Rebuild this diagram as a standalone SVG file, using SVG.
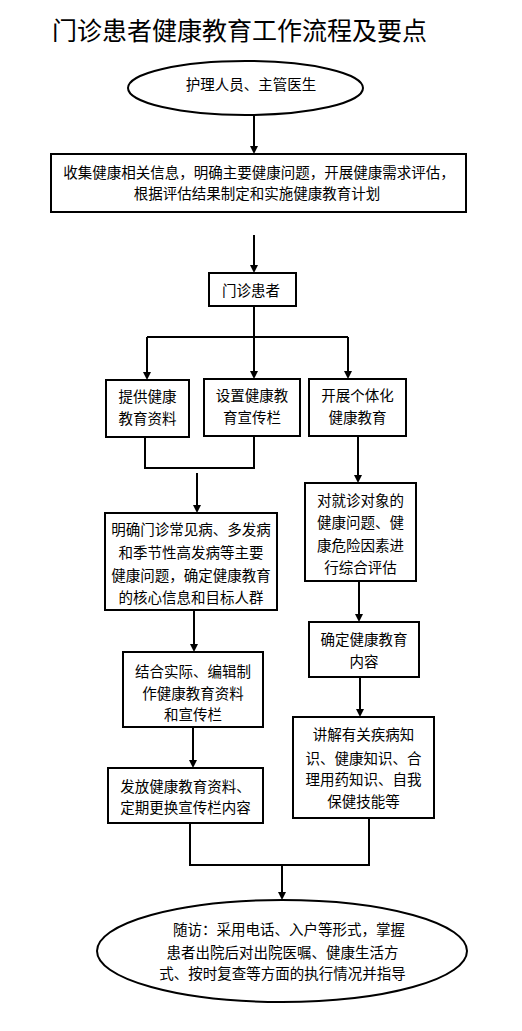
<svg xmlns="http://www.w3.org/2000/svg" width="522" height="1031" viewBox="0 0 522 1031">
<style>
.box{fill:#fff;stroke:#000;stroke-width:2}
.ell{fill:#fff;stroke:#000;stroke-width:2}
.t{font-family:"Noto Sans CJK SC","Liberation Sans",sans-serif;font-size:14.5px;fill:#000;text-anchor:middle}
.title{font-family:"Noto Sans CJK SC","Liberation Sans",sans-serif;font-size:25px;fill:#000}
.c{fill:none;stroke:#000;stroke-width:2}
.a{fill:none;stroke:#000;stroke-width:2;marker-end:url(#ah)}
</style>
<defs>
<marker id="ah" markerWidth="8" markerHeight="8" refX="5" refY="4" orient="auto" markerUnits="userSpaceOnUse"><path d="M0,0 L8,4 L0,8 z" fill="#000"/></marker>
</defs>
<rect width="522" height="1031" fill="#fff"/>
<text class="title" x="52" y="39.5">门诊患者健康教育工作流程及要点</text>

<g id="connectors">
<line class="a" x1="254" y1="115" x2="254" y2="151"/>
<line class="a" x1="254" y1="235" x2="254" y2="270"/>
<polyline class="c" points="254,306 254,337"/>
<polyline class="c" points="147,337 348,337"/>
<line class="a" x1="147" y1="337" x2="147" y2="377"/>
<line class="a" x1="254" y1="337" x2="254" y2="376"/>
<line class="a" x1="348" y1="337" x2="348" y2="376"/>
<polyline class="c" points="145,437 145,468 254,468 254,436"/>
<line class="a" x1="197" y1="473" x2="197" y2="510"/>
<line class="a" x1="358" y1="436" x2="358" y2="480"/>
<line class="a" x1="194" y1="610" x2="194" y2="649"/>
<line class="a" x1="359" y1="581" x2="359" y2="619"/>
<line class="a" x1="193" y1="727" x2="193" y2="765"/>
<line class="a" x1="360" y1="677" x2="360" y2="714"/>
<polyline class="c" points="190,823 190,865 369,865 369,818"/>
<line class="a" x1="282" y1="865" x2="282" y2="897"/>
</g>

<g id="n-start">
<ellipse class="ell" cx="245.5" cy="88" rx="117.5" ry="27"/>
<text class="t" x="251" y="89.5">护理人员、主管医生</text>
</g>

<g id="n-collect">
<rect class="box" x="51" y="154" width="415" height="58"/>
<text class="t" x="259" y="177.5">收集健康相关信息，明确主要健康问题，开展健康需求评估，</text>
<text class="t" x="257" y="198.5">根据评估结果制定和实施健康教育计划</text>
</g>

<g id="n-patient">
<rect class="box" x="209" y="273" width="87" height="33"/>
<text class="t" x="251" y="295.5">门诊患者</text>
</g>

<g id="n-material">
<rect class="box" x="106" y="380" width="83" height="57"/>
<text class="t" x="147.5" y="402">提供健康</text>
<text class="t" x="147.5" y="423.5">教育资料</text>
</g>

<g id="n-board">
<rect class="box" x="204" y="379" width="96" height="57"/>
<text class="t" x="252" y="401">设置健康教</text>
<text class="t" x="252" y="422.5">育宣传栏</text>
</g>

<g id="n-personal">
<rect class="box" x="309" y="379" width="97" height="57"/>
<text class="t" x="357.5" y="401">开展个体化</text>
<text class="t" x="357.5" y="422.5">健康教育</text>
</g>

<g id="n-identify">
<rect class="box" x="105" y="513" width="172" height="97"/>
<text class="t" x="191" y="535">明确门诊常见病、多发病</text>
<text class="t" x="191" y="558">和季节性高发病等主要</text>
<text class="t" x="191" y="581">健康问题，确定健康教育</text>
<text class="t" x="191" y="603">的核心信息和目标人群</text>
</g>

<g id="n-assess">
<rect class="box" x="305" y="483" width="111" height="98"/>
<text class="t" x="360.5" y="505.5">对就诊对象的</text>
<text class="t" x="360.5" y="528">健康问题、健</text>
<text class="t" x="360.5" y="550.5">康危险因素进</text>
<text class="t" x="360.5" y="572.5">行综合评估</text>
</g>

<g id="n-edit">
<rect class="box" x="123" y="652" width="140" height="75"/>
<text class="t" x="193" y="676.5">结合实际、编辑制</text>
<text class="t" x="193" y="698.5">作健康教育资料</text>
<text class="t" x="193" y="719.5">和宣传栏</text>
</g>

<g id="n-content">
<rect class="box" x="309" y="622" width="110" height="55"/>
<text class="t" x="364" y="644.5">确定健康教育</text>
<text class="t" x="364" y="666.5">内容</text>
</g>

<g id="n-distribute">
<rect class="box" x="108" y="768" width="155" height="55"/>
<text class="t" x="185.5" y="791.5">发放健康教育资料、</text>
<text class="t" x="185.5" y="812.5">定期更换宣传栏内容</text>
</g>

<g id="n-explain">
<rect class="box" x="293" y="717" width="141" height="101"/>
<text class="t" x="363.5" y="739.5">讲解有关疾病知</text>
<text class="t" x="363.5" y="763.5">识、健康知识、合</text>
<text class="t" x="363.5" y="784.5">理用药知识、自我</text>
<text class="t" x="363.5" y="806.5">保健技能等</text>
</g>

<g id="n-followup">
<ellipse class="ell" cx="282" cy="951" rx="185" ry="51"/>
<text class="t" x="289" y="934.5">随访：采用电话、入户等形式，掌握</text>
<text class="t" x="282.5" y="957.5">患者出院后对出院医嘱、健康生活方</text>
<text class="t" x="282.5" y="978.5">式、按时复查等方面的执行情况并指导</text>
</g>
</svg>
